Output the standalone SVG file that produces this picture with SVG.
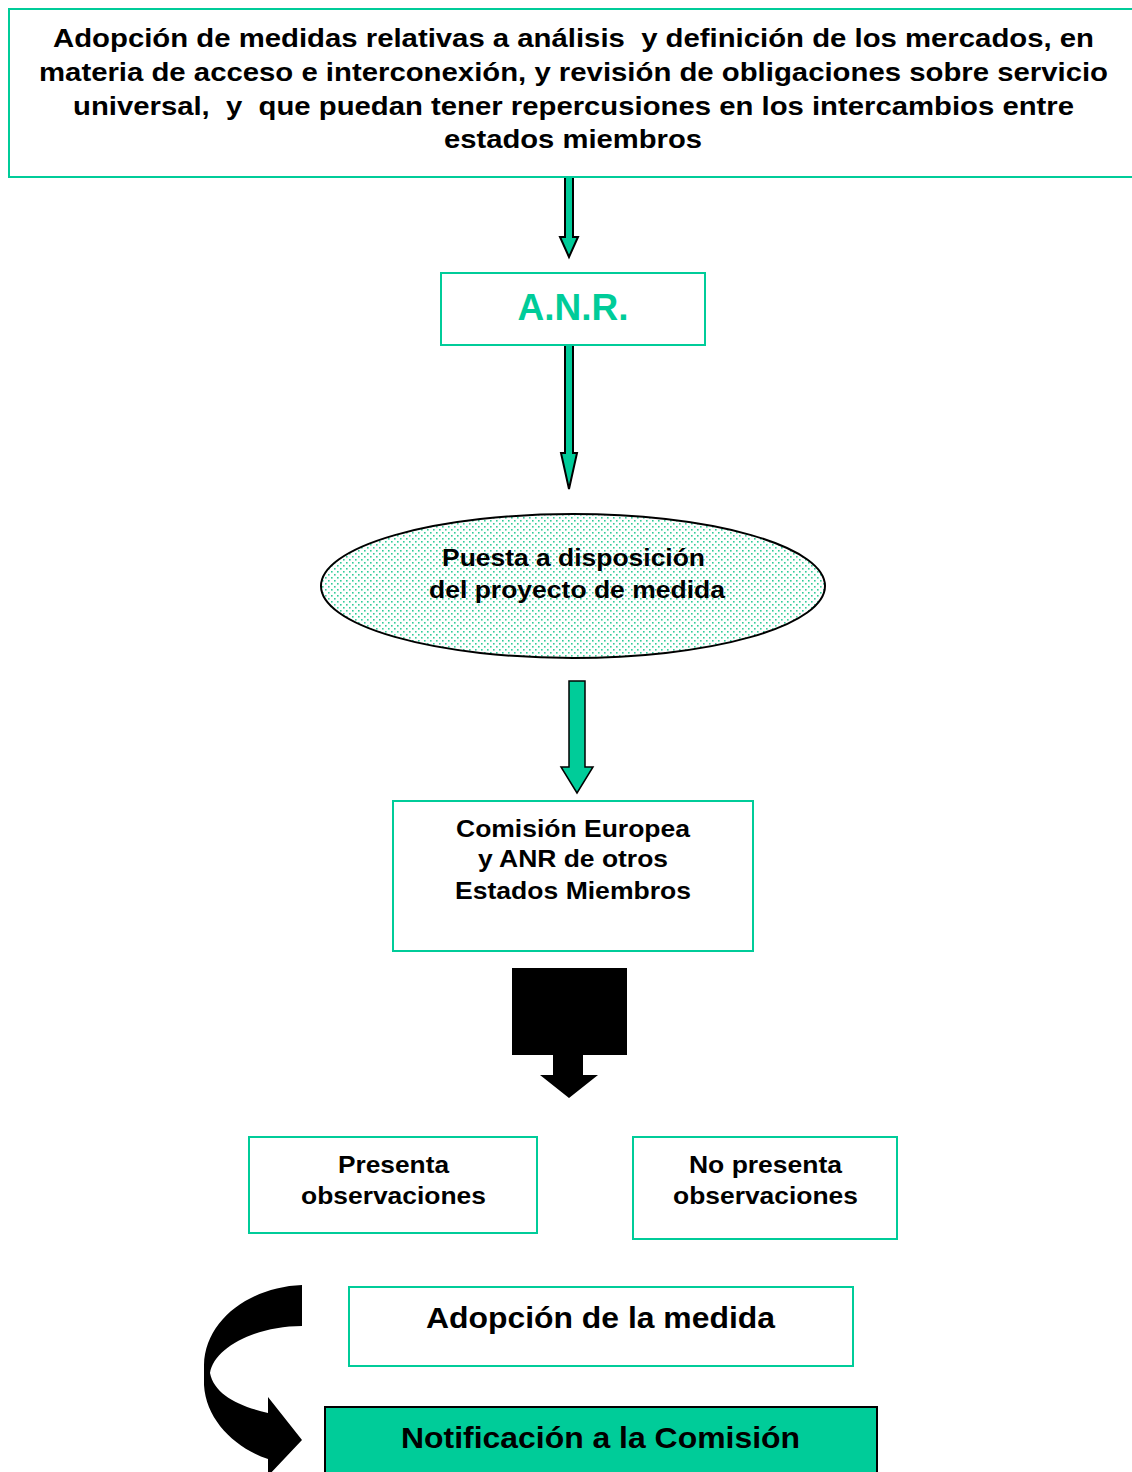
<svg xmlns="http://www.w3.org/2000/svg" width="1132" height="1472" viewBox="0 0 1132 1472">
<defs>
<pattern id="dots" width="6" height="6" patternUnits="userSpaceOnUse">
<rect width="6" height="6" fill="#ffffff"/>
<rect x="1" y="1" width="1.6" height="1.6" fill="#33cc99"/>
<rect x="4" y="4" width="1.6" height="1.6" fill="#33cc99"/>
</pattern>
</defs>
<style>
.box{fill:#ffffff;stroke:#00cc99;stroke-width:2}
.t{font-family:"Liberation Sans",Arial,sans-serif;font-weight:bold;fill:#000000;text-anchor:middle;white-space:pre}
.ga{fill:#00cc99;stroke:#000000;stroke-width:2;stroke-linejoin:miter}
</style>
<rect width="1132" height="1472" fill="#ffffff"/>
<g id="connectors">
<path class="ga" d="M565,177 L573,177 L573,237 L578,237 L569,257 L560,237 L565,237 Z"/>
<path class="ga" d="M565,345 L573,345 L573,453 L577,453 L569,489 L561,453 L565,453 Z"/>
<path d="M569,681 L585,681 L585,767 L593,767 L577,793 L561,767 L569,767 Z" fill="#00cc99" stroke="#000000" stroke-width="1.5"/>
<path d="M512,968 L627,968 L627,1055 L583,1055 L583,1075 L598,1075 L569,1098 L540,1075 L553,1075 L553,1055 L512,1055 Z" fill="#000000"/>
<path d="M302,1285 C250,1287 205,1320 204,1365 L204,1385 C206,1420 235,1448 268,1459 L268,1476 L302,1440 L268,1397 L268,1413 C238,1406 214,1394 210,1373 C214,1348 255,1326 302,1326 Z" fill="#000000"/>
</g>
<g id="n1">
<rect class="box" x="9" y="9" width="1130" height="168"/>
<text class="t" font-size="26" x="573.5" y="47" textLength="1041" lengthAdjust="spacingAndGlyphs">Adopción de medidas relativas a análisis  y definición de los mercados, en</text>
<text class="t" font-size="26" x="573.5" y="81" textLength="1069" lengthAdjust="spacingAndGlyphs">materia de acceso e interconexión, y revisión de obligaciones sobre servicio</text>
<text class="t" font-size="26" x="573.5" y="115" textLength="1001" lengthAdjust="spacingAndGlyphs">universal,  y  que puedan tener repercusiones en los intercambios entre</text>
<text class="t" font-size="26" x="573" y="148" textLength="258" lengthAdjust="spacingAndGlyphs">estados miembros</text>
</g>
<g id="n2">
<rect class="box" x="441" y="273" width="264" height="72"/>
<text class="t" font-size="37" x="573" y="320" style="fill:#00cc99">A.N.R.</text>
</g>
<g id="n3">
<ellipse cx="573" cy="586" rx="252" ry="72" fill="url(#dots)" stroke="#000000" stroke-width="2"/>
<text class="t" font-size="24" x="573.5" y="566" textLength="263" lengthAdjust="spacingAndGlyphs">Puesta a disposición</text>
<text class="t" font-size="24" x="577" y="598" textLength="296" lengthAdjust="spacingAndGlyphs">del proyecto de medida</text>
</g>
<g id="n4">
<rect class="box" x="393" y="801" width="360" height="150"/>
<text class="t" font-size="24" x="573" y="837" textLength="234" lengthAdjust="spacingAndGlyphs">Comisión Europea</text>
<text class="t" font-size="24" x="573" y="867" textLength="190" lengthAdjust="spacingAndGlyphs">y ANR de otros</text>
<text class="t" font-size="24" x="573" y="899" textLength="236" lengthAdjust="spacingAndGlyphs">Estados Miembros</text>
</g>
<g id="n5">
<rect class="box" x="249" y="1137" width="288" height="96"/>
<text class="t" font-size="24" x="393.5" y="1173" textLength="111" lengthAdjust="spacingAndGlyphs">Presenta</text>
<text class="t" font-size="24" x="393.5" y="1204" textLength="185" lengthAdjust="spacingAndGlyphs">observaciones</text>
</g>
<g id="n6">
<rect class="box" x="633" y="1137" width="264" height="102"/>
<text class="t" font-size="24" x="765.5" y="1173" textLength="153" lengthAdjust="spacingAndGlyphs">No presenta</text>
<text class="t" font-size="24" x="765.5" y="1204" textLength="185" lengthAdjust="spacingAndGlyphs">observaciones</text>
</g>
<g id="n7">
<rect class="box" x="349" y="1287" width="504" height="79"/>
<text class="t" font-size="30" x="600.5" y="1328" textLength="349" lengthAdjust="spacingAndGlyphs">Adopción de la medida</text>
</g>
<g id="n8">
<rect x="325" y="1407" width="552" height="70" fill="#00cc99" stroke="#000000" stroke-width="2"/>
<text class="t" font-size="30" x="600.5" y="1448" textLength="399" lengthAdjust="spacingAndGlyphs">Notificación a la Comisión</text>
</g>
</svg>
